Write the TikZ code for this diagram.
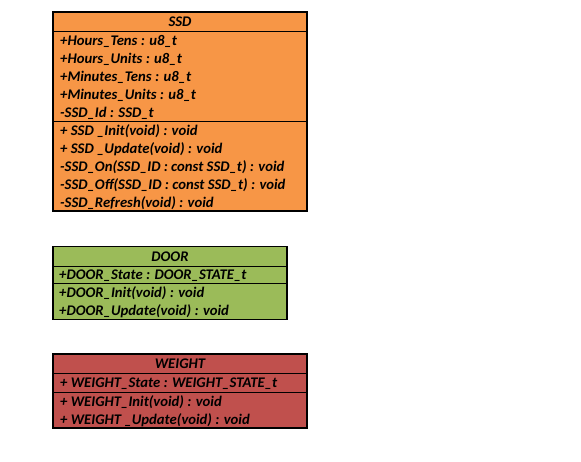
\documentclass[tikz,border=0pt]{standalone}
\usepackage{fontspec}
\setmainfont{Carlito}
\definecolor{ssdorange}{HTML}{F79646}
\definecolor{doorgreen}{HTML}{9BBB59}
\definecolor{weightred}{HTML}{C0504D}
\begin{document}
\begin{tikzpicture}[x=1pt,y=-1pt,
  classbox/.style={draw=black,line width=1.3pt},
  sepline/.style={draw=black,line width=0.9pt},
  member/.style={anchor=west,inner sep=0pt,font=\fontsize{14.7}{16}\selectfont\bfseries\itshape},
  title/.style={inner sep=0pt,font=\fontsize{14.7}{16}\selectfont\bfseries\itshape}]
\useasboundingbox (0,0) rectangle (581,462);

% SSD class
\fill[ssdorange] (53,12) rectangle (307,211);
\draw[sepline] (53,31) -- (307,31);
\draw[sepline] (53,121) -- (307,121);
\draw[classbox] (53,12) rectangle (307,211);
\node[title] (ssdname) at (180,22) {SSD};
\node[member] (ssda1) at (60,41.5) {+Hours\_Tens : u8\_t};
\node[member] (ssda2) at (60,59.5) {+Hours\_Units : u8\_t};
\node[member] (ssda3) at (60,77.5) {+Minutes\_Tens : u8\_t};
\node[member] (ssda4) at (60,95) {+Minutes\_Units : u8\_t};
\node[member] (ssda5) at (60,113) {-SSD\_Id : SSD\_t};
\node[member] (ssdm1) at (60,131.5) {+ SSD \_Init(void) : void};
\node[member] (ssdm2) at (60,149.5) {+ SSD \_Update(void) : void};
\node[member] (ssdm3) at (60,167.5) {-SSD\_On(SSD\_ID : const SSD\_t) : void};
\node[member] (ssdm4) at (60,185) {-SSD\_Off(SSD\_ID : const SSD\_t) : void};
\node[member] (ssdm5) at (60,203) {-SSD\_Refresh(void) : void};

% DOOR class
\fill[doorgreen] (53,246.5) rectangle (287,319.5);
\draw[sepline] (53,266) -- (287,266);
\draw[sepline] (53,283.5) -- (287,283.5);
\draw[classbox] (53,246.5) rectangle (287,319.5);
\node[title] (doorname) at (170,256.5) {DOOR};
\node[member] (doora1) at (59,275.5) {+DOOR\_State : DOOR\_STATE\_t};
\node[member] (doorm1) at (59,293.5) {+DOOR\_Init(void) : void};
\node[member] (doorm2) at (59,311.5) {+DOOR\_Update(void) : void};

% WEIGHT class
\fill[weightred] (53,354) rectangle (307,428);
\draw[sepline] (53,373) -- (307,373);
\draw[sepline] (53,392) -- (307,392);
\draw[classbox] (53,354) rectangle (307,428);
\node[title] (weightname) at (180,364) {WEIGHT};
\node[member] (weighta1) at (60,383.5) {+ WEIGHT\_State : WEIGHT\_STATE\_t};
\node[member] (weightm1) at (60,402) {+ WEIGHT\_Init(void) : void};
\node[member] (weightm2) at (60,420) {+ WEIGHT \_Update(void) : void};
\end{tikzpicture}
\end{document}
